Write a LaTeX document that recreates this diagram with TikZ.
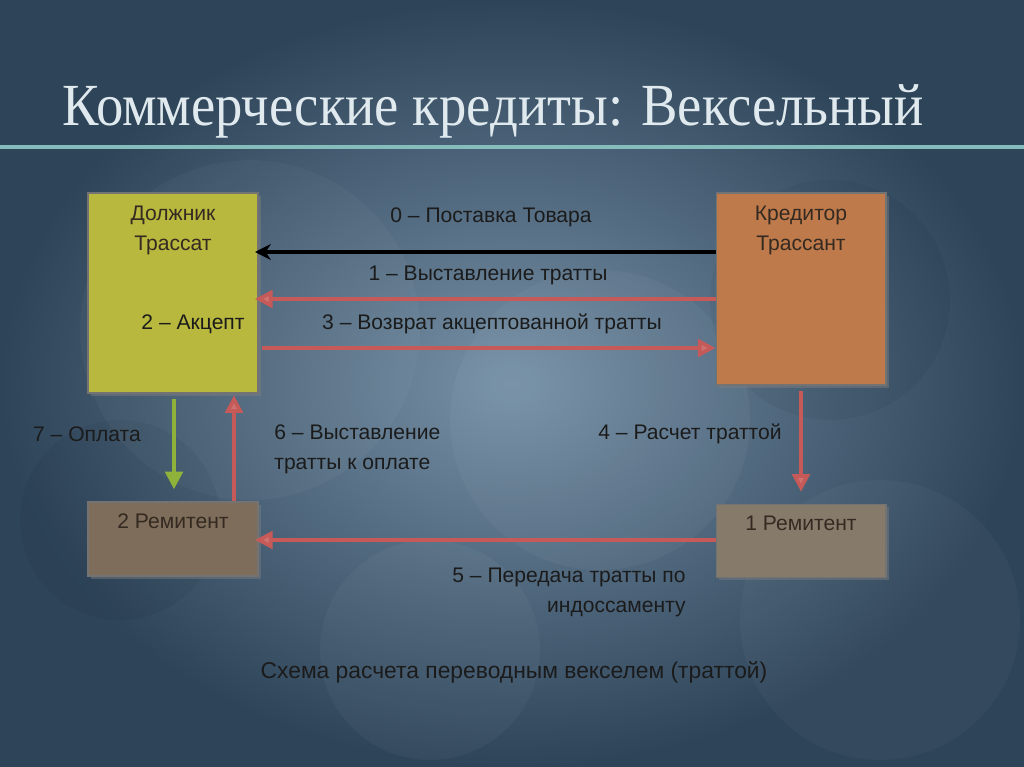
\documentclass[tikz,border=0pt]{standalone}
\usepackage{fontspec}
\setmainfont{Liberation Serif}
\setsansfont{Liberation Sans}
\usetikzlibrary{positioning,arrows.meta,shadows}

\definecolor{bgdark}{HTML}{2E4459}
\definecolor{bglight}{HTML}{7690A6}
\definecolor{rulecol}{HTML}{86BCBC}
\definecolor{titlecol}{HTML}{DFE9EE}
\definecolor{debtorcol}{HTML}{B8B83E}
\definecolor{creditorcol}{HTML}{BE7A4A}
\definecolor{remitcolA}{HTML}{7E6D5A}
\definecolor{remitcolB}{HTML}{867B6B}
\definecolor{flowred}{HTML}{C55A58}
\definecolor{flowgreen}{HTML}{8FB33A}
\definecolor{ink}{HTML}{1B1B1B}

\tikzset{
  party/.style={draw=black!55, line width=0.6pt, minimum width=3.4cm,
    drop shadow={shadow xshift=1.5pt, shadow yshift=-1.5pt, opacity=0.45}},
  boxtxt/.style={font=\sffamily\fontsize{12}{17}\selectfont, text=ink!85!brown, align=center, inner sep=0pt},
  lbl/.style={font=\sffamily\fontsize{12}{17}\selectfont, text=ink, inner sep=0pt},
  redflow/.style={draw=flowred, line width=2.1pt, -{Triangle[length=10pt,width=10pt,fill=flowred!85!white]}},
  greenflow/.style={draw=flowgreen, line width=2.1pt, -{Triangle[length=10pt,width=10pt]}},
  blackflow/.style={draw=black, line width=2.3pt, -{Stealth[length=9pt,width=9pt]}},
}

\begin{document}
\begin{tikzpicture}[x=0.02cm,y=-0.02cm]
\useasboundingbox (0,0) rectangle (1024,767);

% background
\shade[inner color=bglight, outer color=bgdark] (0,0) rectangle (1024,767);
\fill[white, opacity=0.035] (430,650) circle (110);
\fill[white, opacity=0.035] (600,420) circle (150);
\fill[white, opacity=0.03] (250,330) circle (170);
\fill[black, opacity=0.045] (830,300) circle (120);
\fill[black, opacity=0.045] (120,520) circle (100);
\fill[white, opacity=0.03] (880,620) circle (140);
\draw[rulecol, line width=2.8pt] (0,147) -- (1024,147);

% title
\node[anchor=base west, text=titlecol, inner sep=0pt, xscale=0.915, font=\fontsize{34}{36}\selectfont] (title) at (62,126) {Коммерческие кредиты: Вексельный};

% parties
\node[party, fill=debtorcol, minimum height=4cm] (dolzh) at (173,293) {};
\node[party, fill=creditorcol, minimum height=3.84cm] (kred) at (801,289) {};
\node[party, fill=remitcolA, minimum height=1.48cm] (rem2) at (173,539) {};
\node[party, fill=remitcolB, minimum height=1.46cm] (rem1) at (801,541) {};

\node[boxtxt, below=0.27cm of dolzh.north] (dolzhtxt) {Должник\\Трассат};
\node[boxtxt, below=0.27cm of kred.north] (kredtxt) {Кредитор\\Трассант};
\node[boxtxt, below=0.24cm of rem2.north] (rem2txt) {2 Ремитент};
\node[boxtxt, below=0.24cm of rem1.north] (rem1txt) {1 Ремитент};

% flows
\coordinate (y0) at (0,252);
\coordinate (y1) at (0,299);
\coordinate (y3) at (0,348);
\coordinate (y5) at (0,540);
\coordinate (x7) at (174,0);
\coordinate (x6) at (234,0);
\draw[blackflow, shorten >=-2pt] (kred.west |- y0) -- (dolzh.east |- y0);
\draw[redflow, shorten >=-2pt] (kred.west |- y1) -- (dolzh.east |- y1);
\draw[redflow, shorten <=2pt] (dolzh.east |- y3) -- (kred.west |- y3);
\draw[redflow, shorten <=3pt, shorten >=7pt] (kred.south) -- (rem1.north);
\draw[redflow, shorten >=-2pt] (rem1.west |- y5) -- (rem2.east |- y5);
\draw[redflow, shorten >=1pt] (rem2.north -| x6) -- (dolzh.south -| x6);
\draw[greenflow, shorten <=3pt, shorten >=7pt] (dolzh.south -| x7) -- (rem2.north -| x7);

% labels
\node[lbl] (l0) at (491,217) {0 – Поставка Товара};
\node[lbl] (l1) at (488,275) {1 – Выставление тратты};
\node[lbl] (l2) at (193,324) {2 – Акцепт};
\node[lbl] (l3) at (492,324) {3 – Возврат акцептованной тратты};
\node[lbl] (l4) at (690,434) {4 – Расчет траттой};
\node[lbl, anchor=east, align=right] (l5) at (686,592) {5 – Передача тратты по\\индоссаменту};
\node[lbl, anchor=west, align=left] (l6) at (274,449) {6 – Выставление\\тратты к оплате};
\node[lbl] (l7) at (87,434) {7 – Оплата};
\node[lbl, font=\sffamily\fontsize{13}{16}\selectfont] (caption) at (514,672) {Схема расчета переводным векселем (траттой)};

\end{tikzpicture}
\end{document}
